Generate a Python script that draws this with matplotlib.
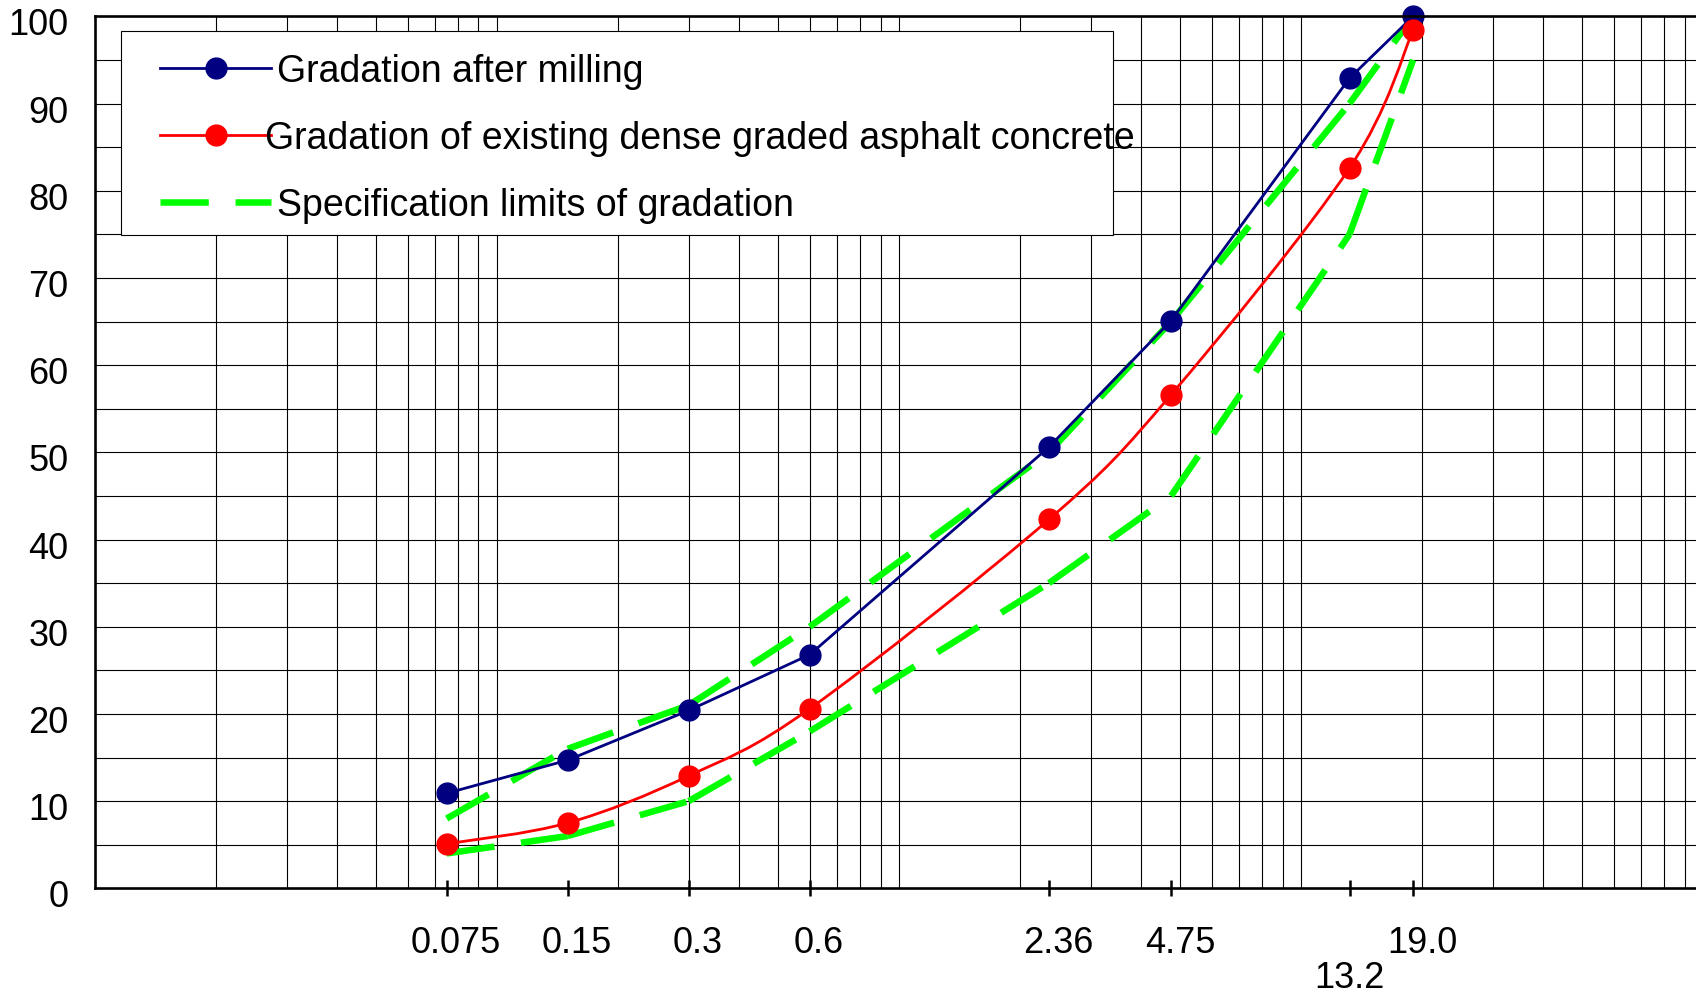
import numpy as np
import matplotlib
matplotlib.use("Agg")
import matplotlib.pyplot as plt
from matplotlib.lines import Line2D
from matplotlib.path import Path
from matplotlib.patches import PathPatch, Rectangle
from matplotlib.legend_handler import HandlerLine2D
from matplotlib.transforms import ScaledTranslation

plt.rcParams["font.family"] = ["Liberation Sans", "DejaVu Sans"]

# sieve sizes (mm) and percent passing
sieve_sizes = [0.075, 0.15, 0.3, 0.6, 2.36, 4.75, 13.2, 19.0]
tick_labels = ["0.075", "0.15", "0.3", "0.6", "2.36", "4.75", "13.2", "19.0"]
after_milling = [10.9, 14.7, 20.4, 26.8, 50.6, 65.1, 92.9, 100.0]
existing_dense = [5.1, 7.5, 12.9, 20.6, 42.3, 56.6, 82.6, 98.4]
spec_upper = [8, 16, 21, 30, 50, 65, 90, 100]
spec_lower = [4, 6, 10, 18, 35, 45, 75, 95]

labels = [
    "Gradation after milling",
    "Gradation of existing dense graded asphalt concrete",
    "Specification limits of gradation",
]

BLUE = "#000080"
RED = "#ff0000"
GREEN = "#00ff00"


def smooth_path(xs, ys):
    # Catmull-Rom style bezier through the points, built in log-x space
    pts = np.column_stack([np.log10(xs), ys])
    n = len(pts)
    verts = [pts[0]]
    codes = [Path.MOVETO]
    for i in range(n - 1):
        p0 = pts[max(i - 1, 0)]
        p1 = pts[i]
        p2 = pts[i + 1]
        p3 = pts[min(i + 2, n - 1)]
        verts += [p1 + (p2 - p0) / 6.0, p2 - (p3 - p1) / 6.0, p2]
        codes += [Path.CURVE4] * 3
    verts = np.array(verts)
    verts[:, 0] = 10 ** verts[:, 0]
    return Path(verts, codes)


fig = plt.figure(figsize=(16.96, 9.95), dpi=100)
ax = fig.add_axes([0.0559, 0.1062, 0.9441, 0.8764])
ax.set_xscale("log")
ax.set_xlim(0.01, 96)
ax.set_ylim(0, 100)

# grid
for dec in [0.01, 0.1, 1, 10]:
    for m in range(1, 10):
        v = m * dec
        if 0.01 < v < 96:
            ax.axvline(v, color="black", lw=0.8, zorder=1)
for v in range(5, 100, 5):
    ax.axhline(v, color="black", lw=0.8, zorder=1)

# specification limits, dash pattern restarts on each segment
green_kw = dict(color=GREEN, lw=4.7, dashes=(7.4, 4.1), dash_capstyle="butt",
                zorder=3)
green_handle = None
for limits in [spec_upper, spec_lower]:
    for i in range(len(sieve_sizes) - 1):
        (ln,) = ax.plot(sieve_sizes[i:i + 2], limits[i:i + 2], **green_kw)
        if green_handle is None:
            green_handle = ln

(blue_line,) = ax.plot(sieve_sizes, after_milling, color=BLUE, lw=2.0,
                       marker="o", ms=15, mec=BLUE, mfc=BLUE, zorder=4,
                       clip_on=False)

ax.add_patch(PathPatch(smooth_path(sieve_sizes, existing_dense), fill=False,
                       edgecolor=RED, lw=2.0, zorder=5))
ax.plot(sieve_sizes, existing_dense, linestyle="none", marker="o", ms=15,
        mec=RED, mfc=RED, zorder=6, clip_on=False)
red_handle = Line2D([], [], color=RED, lw=2.0, marker="o", ms=15,
                    mec=RED, mfc=RED)

# spines
for side in ["left", "bottom", "top"]:
    ax.spines[side].set_linewidth(1.9)
    ax.spines[side].set_color("black")
    ax.spines[side].set_zorder(7)
ax.spines["right"].set_visible(False)

# x ticks: 13.2 goes on a lower row as a minor tick
major_idx = [i for i, s in enumerate(tick_labels) if s != "13.2"]
minor_idx = [i for i, s in enumerate(tick_labels) if s == "13.2"]
ax.set_xticks([sieve_sizes[i] for i in major_idx],
              [tick_labels[i] for i in major_idx])
ax.set_xticks([sieve_sizes[i] for i in minor_idx],
              [tick_labels[i] for i in minor_idx], minor=True)
ax.tick_params(axis="x", which="both", direction="inout", length=12,
               width=1.8, labelsize=26, color="black")
ax.tick_params(axis="x", which="major", pad=20.1)
ax.tick_params(axis="x", which="minor", pad=45.3)

ax.set_yticks(range(0, 101, 10))
ax.tick_params(axis="y", length=0, pad=19, labelsize=26)

shift_x = ScaledTranslation(9 / 100, 0, fig.dpi_scale_trans)
for lbl in ax.get_xticklabels():
    lbl.set_transform(lbl.get_transform() + shift_x)
shift_y = ScaledTranslation(0, -4.5 / 100, fig.dpi_scale_trans)
for lbl in ax.get_yticklabels():
    lbl.set_transform(lbl.get_transform() + shift_y)

# legend box drawn separately so it can be sized like the original
ax.add_patch(Rectangle((0.0162, 0.7492), 0.6361 - 0.0162, 0.9831 - 0.7492,
                       transform=ax.transAxes, facecolor="white",
                       edgecolor="black", lw=0.8, zorder=8))
leg = ax.legend([blue_line, red_handle, green_handle], labels,
                loc="upper left", bbox_to_anchor=(0.0162, 0.9831),
                borderaxespad=0, frameon=False, fontsize=27,
                borderpad=0.59, labelspacing=0.83, handlelength=3.43,
                handletextpad=0.16, numpoints=1,
                handler_map={Line2D: HandlerLine2D(xpad=0.47)})
leg.set_zorder(9)
txt = leg.get_texts()[1]
txt.set_transform(txt.get_transform()
                  + ScaledTranslation(-12.7 / 100, 0, fig.dpi_scale_trans))

fig.savefig("out.png", dpi=100)
